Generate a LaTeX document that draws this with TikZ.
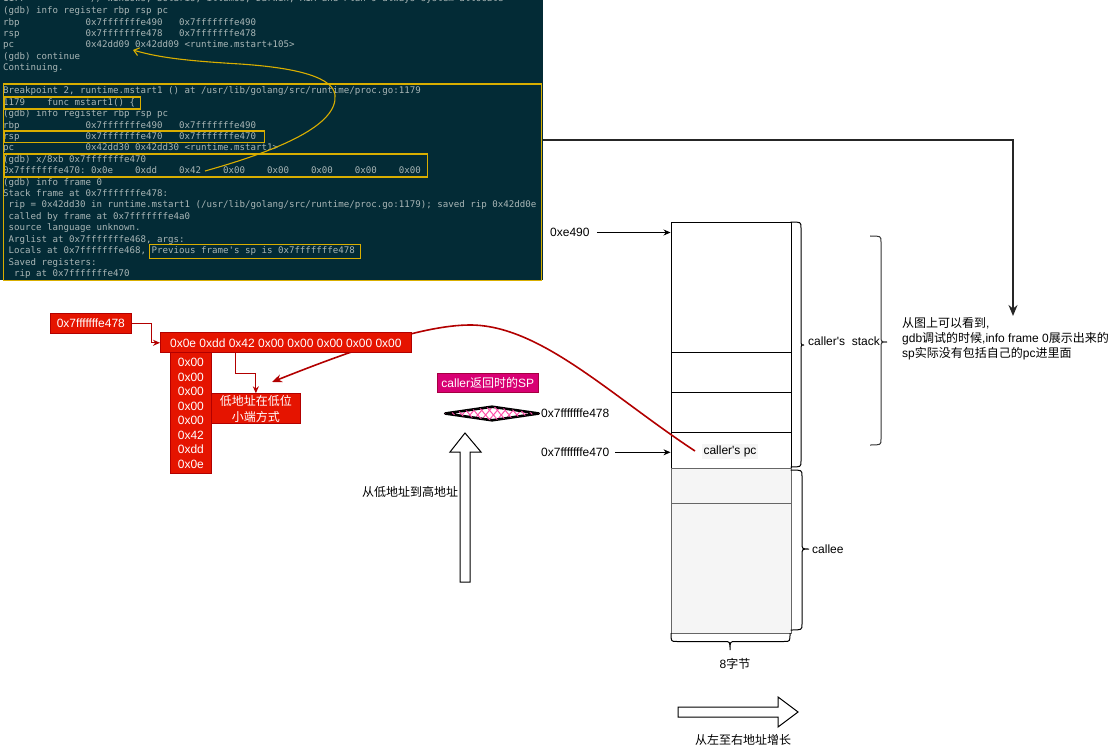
\documentclass[tikz,border=0pt]{standalone}
\usepackage{fontspec}
\setmainfont{Liberation Sans}
\newfontfamily\cjk{Noto Sans CJK SC}
\newfontfamily\term{DejaVu Sans Mono}
\usetikzlibrary{arrows.meta,patterns.meta,shapes.geometric}
\definecolor{termbg}{HTML}{032B36}
\definecolor{termtext}{HTML}{A9B6B6}
\definecolor{ygold}{HTML}{D9AE00}
\definecolor{rfill}{HTML}{E51400}
\definecolor{rline}{HTML}{B20000}
\definecolor{magfill}{HTML}{D80073}
\definecolor{magline}{HTML}{A50040}
\definecolor{gfill}{HTML}{F5F5F5}
\definecolor{gline}{HTML}{666666}
\definecolor{pinkh}{HTML}{FF4FA8}
\begin{document}
\begin{tikzpicture}[x=1pt,y=-1pt,
  lbl/.style={font=\fontsize{12}{14.4}\selectfont, inner sep=0pt},
  tl/.style={anchor=base west, inner sep=0pt, text=termtext, font=\term\fontsize{9.13}{11}\selectfont},
  yb/.style={draw=ygold, line width=1.3pt, inner sep=0pt, anchor=north west},
  cell/.style={draw=black, line width=1pt, fill=white, minimum width=120pt, inner sep=0pt, anchor=north west},
  gcell/.style={draw=gline, line width=1pt, fill=gfill, minimum width=120pt, inner sep=0pt, anchor=north west},
  rbox/.style={draw=rline, fill=rfill, line width=1pt, text=white, inner sep=0pt, anchor=north west, font=\fontsize{12}{14.4}\selectfont},
  blk/.style={draw=black, line width=0.8pt, -{Stealth[length=7pt,width=6pt]}},
  redarr/.style={draw=rline, line width=1pt, -{Stealth[length=7pt,width=6pt]}},
  brc/.style={draw=black, line width=1pt},
  hollow/.style={draw=black, line width=1pt, fill=white}
]
\useasboundingbox (0,0) rectangle (1115,751);

% ---------- terminal ----------
\node[fill=termbg, minimum width=543pt, minimum height=280pt, anchor=north west, inner sep=0pt] (term) at (0,0) {};
\begin{scope}
\clip (0,0) rectangle (543,280);
\node[tl] (t0) at (3,2) {1177~~~~~~~~~~~~//~Windows,~Solaris,~illumos,~Darwin,~AIX~and~Plan~9~always~system-allocate};
\node[tl] (t1) at (3,13.6) {(gdb)~info~register~rbp~rsp~pc};
\node[tl] (t2) at (3,25.1) {rbp~~~~~~~~~~~~0x7fffffffe490~~~0x7fffffffe490};
\node[tl] (t3) at (3,36.6) {rsp~~~~~~~~~~~~0x7fffffffe478~~~0x7fffffffe478};
\node[tl] (t4) at (3,48) {pc~~~~~~~~~~~~~0x42dd09~0x42dd09~<runtime.mstart+105>};
\node[tl] (t5) at (3,59.5) {(gdb)~continue};
\node[tl] (t6) at (3,70.9) {Continuing.};
\node[tl] (t8) at (3,93.8) {Breakpoint~2,~runtime.mstart1~()~at~/usr/lib/golang/src/runtime/proc.go:1179};
\node[tl] (t9) at (3,105.3) {1179~~~~func~mstart1()~\{};
\node[tl] (t10) at (3,116.7) {(gdb)~info~register~rbp~rsp~pc};
\node[tl] (t11) at (3,128.1) {rbp~~~~~~~~~~~~0x7fffffffe490~~~0x7fffffffe490};
\node[tl] (t12) at (3,139.5) {rsp~~~~~~~~~~~~0x7fffffffe470~~~0x7fffffffe470};
\node[tl] (t13) at (3,150.9) {pc~~~~~~~~~~~~~0x42dd30~0x42dd30~<runtime.mstart1>};
\node[tl] (t14) at (3,162.3) {(gdb)~x/8xb~0x7fffffffe470};
\node[tl] (t15) at (3,173.7) {0x7fffffffe470:~0x0e~~~~0xdd~~~~0x42~~~~0x00~~~~0x00~~~~0x00~~~~0x00~~~~0x00};
\node[tl] (t16) at (3,185.2) {(gdb)~info~frame~0};
\node[tl] (t17) at (3,196.6) {Stack~frame~at~0x7fffffffe478:};
\node[tl] (t18) at (3,208) {~rip~=~0x42dd30~in~runtime.mstart1~(/usr/lib/golang/src/runtime/proc.go:1179);~saved~rip~0x42dd0e};
\node[tl] (t19) at (3,219.4) {~called~by~frame~at~0x7fffffffe4a0};
\node[tl] (t20) at (3,230.8) {~source~language~unknown.};
\node[tl] (t21) at (3,242.2) {~Arglist~at~0x7fffffffe468,~args:~};
\node[tl] (t22) at (3,253.6) {~Locals~at~0x7fffffffe468,~Previous~frame\textquotesingle s~sp~is~0x7fffffffe478};
\node[tl] (t23) at (3,265) {~Saved~registers:};
\node[tl] (t24) at (3,276.4) {~~rip~at~0x7fffffffe470};
\end{scope}

% yellow boxes
\node[yb, minimum width=538pt, minimum height=196pt] (ybig) at (2.5,83.5) {};
\node[yb, minimum width=136pt, minimum height=12pt] (y1179) at (3.5,96.5) {};
\node[yb, minimum width=260pt, minimum height=11.5pt] (yrsp) at (3.5,130.5) {};
\node[yb, minimum width=423pt, minimum height=23pt] (yx) at (3.5,153.5) {};
\node[yb, minimum width=211pt, minimum height=14pt] (yprev) at (148.5,243.5) {};

% yellow curved arrow
\coordinate (ycs) at (205,171);
\coordinate (yce) at (133,50);
\draw[draw=ygold, line width=1.1pt, -{Straight Barb[length=5pt,width=8pt]}]
  (ycs) .. controls (280,150) and (338,125) .. (335,95)
  .. controls (333,78) and (300,68) .. (240,64)
  .. controls (190,61) and (160,58) .. (yce);

% ---------- stack ----------
\node[cell, minimum height=130pt] (s1) at (670.5,222) {};
\node[cell, minimum height=40pt] (s2) at (670.5,352) {};
\node[cell, minimum height=40pt] (s3) at (670.5,392) {};
\node[cell, minimum height=35.5pt] (s4) at (670.5,432) {};
\node[gcell, minimum height=35.5pt] (s5) at (670.5,467.5) {};
\node[gcell, minimum height=130pt] (s6) at (670.5,503) {};
\node[lbl, fill=gfill, inner xsep=1.5pt, inner ysep=1.5pt] (pc) at (730,451.5) {caller\textquotesingle s pc};

% braces
\draw[brc] (790.5,222) .. controls (801,222) .. (801,228) -- (801,339)
  .. controls (801,345) .. (804,345) .. controls (801,345) .. (801,351)
  -- (801,461) .. controls (801,467) .. (790.5,467);
\draw[brc, draw=black!80] (870,236) .. controls (881,236) .. (881,242) -- (881,336)
  .. controls (881,342) .. (887,342) .. controls (881,342) .. (881,348)
  -- (881,439) .. controls (881,445) .. (870,445);
\draw[brc] (790.5,470) .. controls (802,470) .. (802,476) -- (802,543)
  .. controls (802,549) .. (809,549) .. controls (802,549) .. (802,555)
  -- (802,624) .. controls (802,630) .. (790.5,630);
\draw[brc] (671,633) .. controls (671,641.5) .. (677,641.5) -- (724,641.5)
  .. controls (730,641.5) .. (730,650) .. controls (730,641.5) .. (736,641.5)
  -- (784,641.5) .. controls (790,641.5) .. (790,633);

\node[lbl, anchor=west] (cstack) at (808,341) {caller\textquotesingle s\ \ stack};
\node[lbl, anchor=west] (callee) at (812,549) {callee};
\node[lbl] (bytes) at (735,664) {8{\cjk 字节}};

% address labels and arrows
\node[lbl, anchor=west] (l490) at (550,232.5) {0xe490};
\draw[blk] ([xshift=7pt]l490.east) -- (s1.west |- l490.east);
\node[lbl, anchor=west] (l470) at (541,452.3) {0x7fffffffe470};
\draw[blk] ([xshift=6pt]l470.east) -- (s4.west |- l470.east);

% note text and thick connector
\node[lbl, anchor=base west, align=left, font=\fontsize{12}{15}\selectfont] (note) at (902,357.5)
  {{\cjk 从图上可以看到},\\gdb{\cjk 调试的时候},info frame 0{\cjk 展示出来的}\\sp{\cjk 实际没有包括自己的}pc{\cjk 进里面}};
\coordinate (notein) at (1013,316);
\draw[line width=1.6pt, draw=black!85, -{Stealth[length=11pt,width=9pt]}] (term.east) -| (notein);

% ---------- SP marker ----------
\node[draw=magline, fill=magfill, line width=0.8pt, text=white, inner sep=0pt, anchor=north west,
  minimum width=100.7pt, minimum height=19pt, font=\fontsize{12}{14.4}\selectfont] (retsp) at (437,372.7)
  {caller{\cjk 返回时的}SP};
\node[diamond, draw=black, line width=2.6pt, line join=round, minimum width=94pt, minimum height=14pt, inner sep=0pt,
  pattern={Lines[angle=50,distance=6pt,line width=1pt]}, pattern color=pinkh,
  postaction={pattern={Lines[angle=-50,distance=6pt,line width=1pt]}, pattern color=pinkh}] (dia) at (492,413.5) {};
\node[lbl, anchor=west] (l478) at (541,413) {0x7fffffffe478};

% hollow arrows
\draw[hollow] (460,582) -- (460,452) -- (450,452) -- (465,433) -- (481,452) -- (470,452) -- (470,582) -- cycle;
\node[lbl] (lowhigh) at (410,492) {\cjk 从低地址到高地址};
\draw[hollow] (678,707) -- (778,707) -- (778,697) -- (798,712) -- (778,727) -- (778,717) -- (678,717) -- cycle;
\node[lbl] (ltr) at (743,740) {\cjk 从左至右地址增长};

% red curve (behind the red boxes)
\coordinate (pcref) at (695,451);
\coordinate (redtip) at (272,382);
\draw[draw=rline, line width=1.6pt, -{Stealth[length=10pt,width=8pt]}]
  (pcref) .. controls (610,395) and (540,325) .. (470,325)
  .. controls (420,325) and (340,355) .. (redtip);

% ---------- red byte boxes ----------
\node[rbox, minimum width=80.7pt, minimum height=20pt] (addr) at (50,312.7) {0x7fffffffe478};
\node[rbox, minimum width=250.7pt, minimum height=20pt] (row) at (160,332.3) {0x0e 0xdd 0x42 0x00 0x00 0x00 0x00 0x00};
\node[rbox, minimum width=40.7pt, minimum height=121pt, align=center, font=\fontsize{12}{14.5}\selectfont] (col) at (170,352.3)
  {0x00\\0x00\\0x00\\0x00\\0x00\\0x42\\0xdd\\0x0e};
\node[rbox, minimum width=89.3pt, minimum height=30pt, align=center, font=\cjk\fontsize{12}{16.5}\selectfont] (cn) at (210.7,393.3)
  {低地址在低位\\小端方式};
\draw[redarr] (addr.east) -- ++(19.3,0) |- (row.west);
\draw[redarr] ([xshift=75pt]row.south west) -- ++(0,20) -| (cn.north);
\end{tikzpicture}
\end{document}
